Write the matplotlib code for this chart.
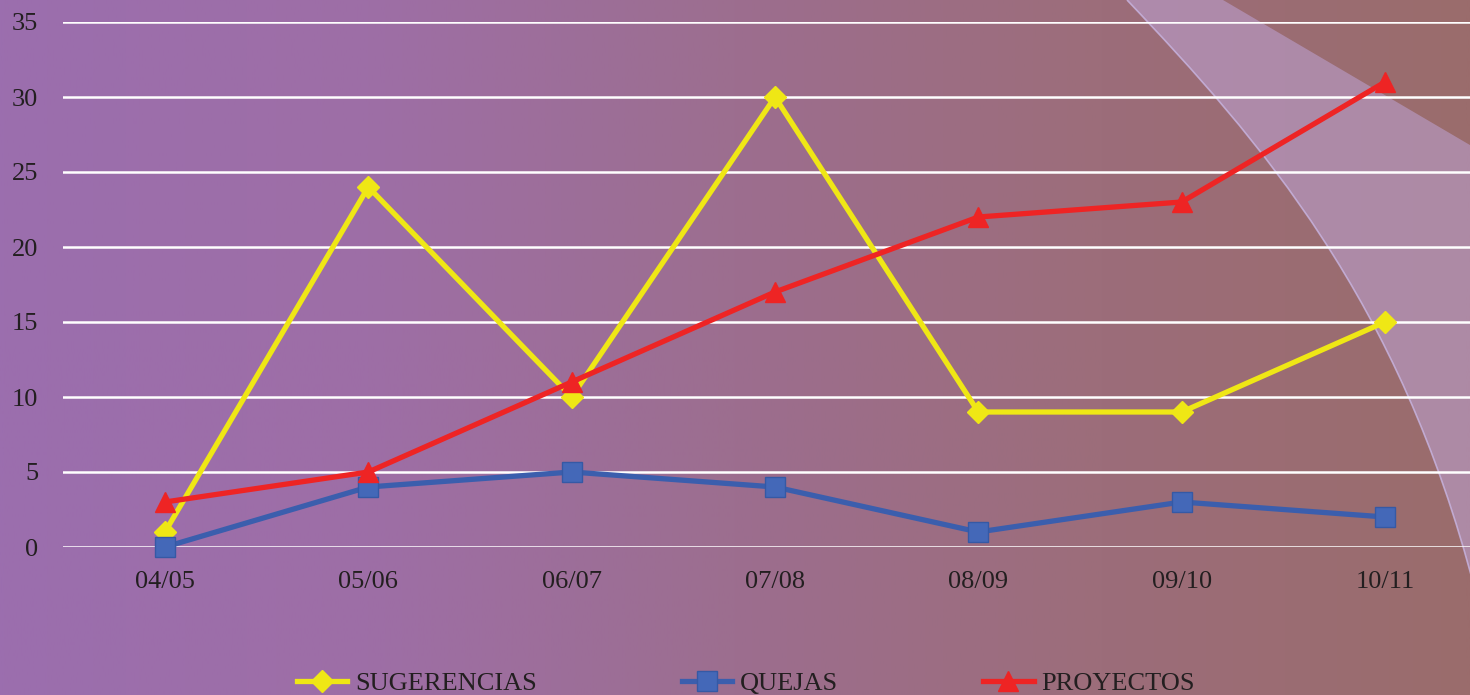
import numpy as np
import matplotlib
matplotlib.use("Agg")
import matplotlib.pyplot as plt
from matplotlib.colors import LinearSegmentedColormap
from matplotlib.patches import PathPatch
from matplotlib.path import Path

# ---- data ----
categories = ["04/05", "05/06", "06/07", "07/08", "08/09", "09/10", "10/11"]
sugerencias = [1, 24, 10, 30, 9, 9, 15]
quejas = [0, 4, 5, 4, 1, 3, 2]
proyectos = [3, 5, 11, 17, 22, 23, 31]
yticks = [0, 5, 10, 15, 20, 25, 30, 35]

W, H = 1470, 695
fig = plt.figure(figsize=(W / 100, H / 100), dpi=100)

# ---- background gradient + translucent band ----
bg = fig.add_axes([0, 0, 1, 1], zorder=-10)
bg.set_xlim(0, W)
bg.set_ylim(H, 0)
bg.axis("off")
cmap = LinearSegmentedColormap.from_list(
    "bg", ["#9B6EAE", "#9E6EA6", "#9C6E8F", "#9C6D7A", "#9A6C6C"])
grad = np.linspace(0, 1, 512)[None, :]
bg.imshow(grad, cmap=cmap, aspect="auto", extent=[0, W, H, 0])

# smooth left edge (cubic bezier) and straight right edge
verts = [(1127, 0),
         (1260, 140), (1400, 300), (1475, 590),
         (1475, 148),
         (1223, 0),
         (1127, 0)]
codes = [Path.MOVETO, Path.CURVE4, Path.CURVE4, Path.CURVE4,
         Path.LINETO, Path.LINETO, Path.CLOSEPOLY]
bg.add_patch(PathPatch(Path(verts, codes), facecolor="#C6AFEB", alpha=0.45,
                       edgecolor="none"))
edge = Path(verts[:4], codes[:4])
bg.add_patch(PathPatch(edge, facecolor="none", edgecolor="#C9B6E3",
                       lw=1.2, alpha=0.8))

# ---- main axes ----
left = 63.3 / W
width = (1486.7 - 63.3) / W
bottom = (H - 547) / H
height = 525 / H
ax = fig.add_axes([left, bottom, width, height])
ax.patch.set_alpha(0)
x = np.arange(len(categories))

ax.plot(x, sugerencias, color="#EFE715", lw=3.8, marker="D", ms=11.5,
        markerfacecolor="#EFE715", markeredgecolor="#EFE715",
        label="SUGERENCIAS", clip_on=False, zorder=3)
ax.plot(x, quejas, color="#3B5EAD", lw=3.8, marker="s", ms=14,
        markerfacecolor="#4468B8", markeredgecolor="#3559A5", mew=1,
        label="QUEJAS", clip_on=False, zorder=4)
ax.plot(x, proyectos, color="#EE2424", lw=3.8, marker="^", ms=14.5,
        markerfacecolor="#EE2424", markeredgecolor="#EE2424",
        label="PROYECTOS", clip_on=False, zorder=5)

ax.set_xlim(-0.5, len(categories) - 0.5)
ax.set_ylim(0, 35)
ax.set_yticks(yticks)
ax.set_xticks(x)
ax.set_xticklabels(categories)
ax.grid(axis="y", color="white", lw=1.8, zorder=1)
ax.set_axisbelow(True)
for s in ax.spines.values():
    s.set_visible(False)
ax.tick_params(axis="both", length=0, labelsize=19, labelcolor="#231F20")
ax.tick_params(axis="y", pad=18)
ax.tick_params(axis="x", pad=17)
for lab in ax.get_xticklabels() + ax.get_yticklabels():
    lab.set_family("Liberation Serif")

leg = fig.legend(loc="center", bbox_to_anchor=(0.5075, 12 / H), ncol=3,
                 frameon=False, prop={"family": "Liberation Serif", "size": 19},
                 handlelength=1.9, handletextpad=0.3, columnspacing=5.5,
                 borderaxespad=0)
for t in leg.get_texts():
    t.set_color("#231F20")

fig.savefig("out.png", dpi=100)
